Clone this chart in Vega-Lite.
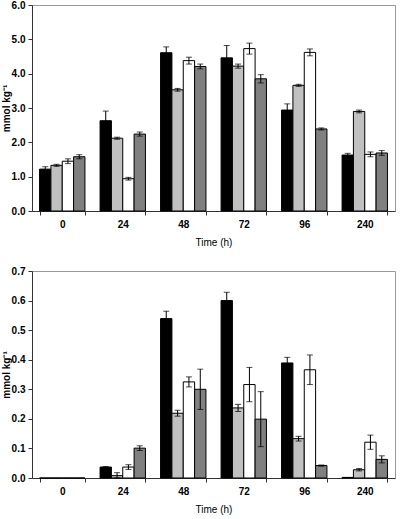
{
  "$schema": "https://vega.github.io/schema/vega-lite/v6.json",
  "padding": {"left": 0, "top": -1, "right": 0, "bottom": 0},
  "spacing": 17,
  "background": "white",
  "config": {
    "font": "Liberation Sans",
    "view": {"stroke": "#999999", "strokeWidth": 1},
    "axis": {
      "labelFont": "Liberation Sans", "labelFontSize": 10, "labelFontWeight": "bold", "labelColor": "black",
      "titleFont": "Liberation Sans", "titleFontSize": 10, "titleFontWeight": "bold", "titleColor": "black",
      "domainColor": "#333333", "tickColor": "#333333", "tickSize": 4, "grid": false, "labelPadding": 3,
      "labelOverlap": false, "labelFlush": false
    }
  },
  "datasets": {
    "top": [
      {"time": "0", "s": "A", "v": 1.22, "lo": 1.15, "hi": 1.29},
      {"time": "0", "s": "B", "v": 1.33, "lo": 1.30, "hi": 1.36},
      {"time": "0", "s": "C", "v": 1.45, "lo": 1.38, "hi": 1.52},
      {"time": "0", "s": "D", "v": 1.58, "lo": 1.52, "hi": 1.64},
      {"time": "24", "s": "A", "v": 2.63, "lo": 2.35, "hi": 2.91},
      {"time": "24", "s": "B", "v": 2.12, "lo": 2.09, "hi": 2.15},
      {"time": "24", "s": "C", "v": 0.94, "lo": 0.90, "hi": 0.98},
      {"time": "24", "s": "D", "v": 2.24, "lo": 2.18, "hi": 2.30},
      {"time": "48", "s": "A", "v": 4.61, "lo": 4.44, "hi": 4.78},
      {"time": "48", "s": "B", "v": 3.53, "lo": 3.49, "hi": 3.57},
      {"time": "48", "s": "C", "v": 4.38, "lo": 4.28, "hi": 4.48},
      {"time": "48", "s": "D", "v": 4.21, "lo": 4.14, "hi": 4.28},
      {"time": "72", "s": "A", "v": 4.46, "lo": 4.10, "hi": 4.82},
      {"time": "72", "s": "B", "v": 4.22, "lo": 4.16, "hi": 4.28},
      {"time": "72", "s": "C", "v": 4.73, "lo": 4.57, "hi": 4.89},
      {"time": "72", "s": "D", "v": 3.85, "lo": 3.73, "hi": 3.97},
      {"time": "96", "s": "A", "v": 2.94, "lo": 2.76, "hi": 3.12},
      {"time": "96", "s": "B", "v": 3.66, "lo": 3.63, "hi": 3.69},
      {"time": "96", "s": "C", "v": 4.62, "lo": 4.52, "hi": 4.72},
      {"time": "96", "s": "D", "v": 2.39, "lo": 2.36, "hi": 2.42},
      {"time": "240", "s": "A", "v": 1.63, "lo": 1.58, "hi": 1.68},
      {"time": "240", "s": "B", "v": 2.90, "lo": 2.86, "hi": 2.94},
      {"time": "240", "s": "C", "v": 1.65, "lo": 1.58, "hi": 1.72},
      {"time": "240", "s": "D", "v": 1.69, "lo": 1.62, "hi": 1.76}
    ],
    "bottom": [
      {"time": "0", "s": "A", "v": 0, "lo": null, "hi": null},
      {"time": "0", "s": "B", "v": 0, "lo": null, "hi": null},
      {"time": "0", "s": "C", "v": 0, "lo": null, "hi": null},
      {"time": "0", "s": "D", "v": 0, "lo": null, "hi": null},
      {"time": "24", "s": "A", "v": 0.037, "lo": 0.035, "hi": 0.039},
      {"time": "24", "s": "B", "v": 0.008, "lo": 0.0, "hi": 0.018},
      {"time": "24", "s": "C", "v": 0.037, "lo": 0.029, "hi": 0.045},
      {"time": "24", "s": "D", "v": 0.101, "lo": 0.093, "hi": 0.109},
      {"time": "48", "s": "A", "v": 0.539, "lo": 0.514, "hi": 0.564},
      {"time": "48", "s": "B", "v": 0.219, "lo": 0.209, "hi": 0.229},
      {"time": "48", "s": "C", "v": 0.325, "lo": 0.308, "hi": 0.342},
      {"time": "48", "s": "D", "v": 0.300, "lo": 0.232, "hi": 0.368},
      {"time": "72", "s": "A", "v": 0.600, "lo": 0.572, "hi": 0.628},
      {"time": "72", "s": "B", "v": 0.237, "lo": 0.225, "hi": 0.249},
      {"time": "72", "s": "C", "v": 0.316, "lo": 0.258, "hi": 0.374},
      {"time": "72", "s": "D", "v": 0.199, "lo": 0.106, "hi": 0.292},
      {"time": "96", "s": "A", "v": 0.389, "lo": 0.370, "hi": 0.408},
      {"time": "96", "s": "B", "v": 0.133, "lo": 0.125, "hi": 0.141},
      {"time": "96", "s": "C", "v": 0.366, "lo": 0.316, "hi": 0.416},
      {"time": "96", "s": "D", "v": 0.042, "lo": 0.040, "hi": 0.044},
      {"time": "240", "s": "A", "v": 0.002, "lo": null, "hi": null},
      {"time": "240", "s": "B", "v": 0.028, "lo": 0.024, "hi": 0.032},
      {"time": "240", "s": "C", "v": 0.121, "lo": 0.097, "hi": 0.145},
      {"time": "240", "s": "D", "v": 0.063, "lo": 0.051, "hi": 0.075}
    ]
  },
  "vconcat": [
    {
      "width": 363, "height": 206,
      "data": {"name": "top"},
      "encoding": {
        "x": {"field": "time", "type": "ordinal", "sort": ["0", "24", "48", "72", "96", "240"],
              "scale": {"paddingInner": 0.25, "paddingOuter": 0.125},
              "axis": {"title": "Time (h)", "titleFontWeight": "normal", "labelAngle": 0, "tickBand": "extent", "labelPadding": 4, "titlePadding": 8}},
        "xOffset": {"field": "s", "type": "nominal", "scale": {"domain": ["A", "B", "C", "D"], "paddingInner": 0, "paddingOuter": 0}}
      },
      "layer": [
        {
          "mark": {"type": "bar", "stroke": "black", "strokeWidth": 1},
          "encoding": {
            "y": {"field": "v", "type": "quantitative", "scale": {"domain": [0, 6], "nice": false},
                  "axis": {"title": "mmol kg⁻¹", "values": [0, 1, 2, 3, 4, 5, 6], "format": ".1f", "titlePadding": 0}},
            "fill": {"field": "s", "type": "nominal", "scale": {"domain": ["A", "B", "C", "D"], "range": ["#000000", "#c0c0c0", "#ffffff", "#808080"]}, "legend": null}
          }
        },
        {
          "mark": {"type": "rule", "color": "black", "strokeWidth": 1},
          "encoding": {"y": {"field": "lo", "type": "quantitative", "axis": {"title": "mmol kg⁻¹", "values": [0, 1, 2, 3, 4, 5, 6], "format": ".1f", "titlePadding": 0}}, "y2": {"field": "hi"}}
        },
        {
          "mark": {"type": "tick", "color": "black", "size": 6, "thickness": 1, "orient": "horizontal"},
          "encoding": {"y": {"field": "lo", "type": "quantitative", "axis": {"title": "mmol kg⁻¹", "values": [0, 1, 2, 3, 4, 5, 6], "format": ".1f", "titlePadding": 0}}}
        },
        {
          "mark": {"type": "tick", "color": "black", "size": 6, "thickness": 1, "orient": "horizontal"},
          "encoding": {"y": {"field": "hi", "type": "quantitative", "axis": {"title": "mmol kg⁻¹", "values": [0, 1, 2, 3, 4, 5, 6], "format": ".1f", "titlePadding": 0}}}
        }
      ]
    },
    {
      "width": 363, "height": 207,
      "data": {"name": "bottom"},
      "encoding": {
        "x": {"field": "time", "type": "ordinal", "sort": ["0", "24", "48", "72", "96", "240"],
              "scale": {"paddingInner": 0.25, "paddingOuter": 0.125},
              "axis": {"title": "Time (h)", "titleFontWeight": "normal", "labelAngle": 0, "tickBand": "extent", "labelPadding": 4, "titlePadding": 8}},
        "xOffset": {"field": "s", "type": "nominal", "scale": {"domain": ["A", "B", "C", "D"], "paddingInner": 0, "paddingOuter": 0}}
      },
      "layer": [
        {
          "mark": {"type": "bar", "stroke": "black", "strokeWidth": 1},
          "encoding": {
            "y": {"field": "v", "type": "quantitative", "scale": {"domain": [0, 0.7], "nice": false},
                  "axis": {"title": "mmol kg⁻¹", "values": [0, 0.1, 0.2, 0.3, 0.4, 0.5, 0.6, 0.7], "format": ".1f", "titlePadding": 0}},
            "fill": {"field": "s", "type": "nominal", "scale": {"domain": ["A", "B", "C", "D"], "range": ["#000000", "#c0c0c0", "#ffffff", "#808080"]}, "legend": null}
          }
        },
        {
          "mark": {"type": "rule", "color": "black", "strokeWidth": 1},
          "encoding": {"y": {"field": "lo", "type": "quantitative", "axis": {"title": "mmol kg⁻¹", "values": [0, 0.1, 0.2, 0.3, 0.4, 0.5, 0.6, 0.7], "format": ".1f", "titlePadding": 0}}, "y2": {"field": "hi"}}
        },
        {
          "mark": {"type": "tick", "color": "black", "size": 6, "thickness": 1, "orient": "horizontal"},
          "encoding": {"y": {"field": "lo", "type": "quantitative", "axis": {"title": "mmol kg⁻¹", "values": [0, 0.1, 0.2, 0.3, 0.4, 0.5, 0.6, 0.7], "format": ".1f", "titlePadding": 0}}}
        },
        {
          "mark": {"type": "tick", "color": "black", "size": 6, "thickness": 1, "orient": "horizontal"},
          "encoding": {"y": {"field": "hi", "type": "quantitative", "axis": {"title": "mmol kg⁻¹", "values": [0, 0.1, 0.2, 0.3, 0.4, 0.5, 0.6, 0.7], "format": ".1f", "titlePadding": 0}}}
        }
      ]
    }
  ]
}
